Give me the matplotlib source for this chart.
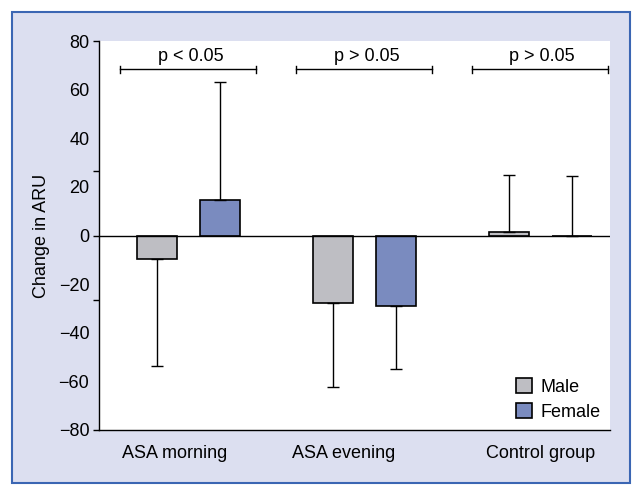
import numpy as np
import matplotlib
matplotlib.use("Agg")
import matplotlib.pyplot as plt
from matplotlib.patches import Rectangle

plt.rcParams['font.family'] = ['Liberation Sans', 'DejaVu Sans']

groups = ['ASA morning', 'ASA evening', 'Control group']
male = [-9.5, -27.6, 1.5]
female = [14.4, -29.2, 0.0]
male_sd = [44.0, 34.9, 23.2]
female_sd = [48.6, 25.8, 24.5]
p_texts = ['p < 0.05', 'p > 0.05', 'p > 0.05']
label_pos = [-0.08, 0.88, 2.0]

male_color = '#bebec3'
female_color = '#7a8bbf'
bg = '#dcdff0'
fs = 13

fig = plt.figure(figsize=(6.43, 4.96), dpi=100, facecolor='white')
frame = Rectangle((12 / 643, 13 / 496), 618 / 643, 471 / 496,
                  transform=fig.transFigure, facecolor=bg,
                  edgecolor='#3b66b3', linewidth=1.5, zorder=-10)
fig.add_artist(frame)

ax = fig.add_axes([99 / 643, 66 / 496, 511 / 643, 389 / 496])
ax.set_facecolor('white')

x = np.arange(len(groups))
off = 0.178
w = 0.227


def one_side(vals, sd):
    lo = [s if v < 0 else 0 for v, s in zip(vals, sd)]
    hi = [s if v >= 0 else 0 for v, s in zip(vals, sd)]
    return [lo, hi]


ax.bar(x - off, male, w, color=male_color, edgecolor='black', linewidth=1.2,
       label='Male', zorder=2)
ax.bar(x + off, female, w, color=female_color, edgecolor='black', linewidth=1.2,
       label='Female', zorder=2)
ax.errorbar(x - off, male, yerr=one_side(male, male_sd), fmt='none',
            ecolor='black', elinewidth=1, capsize=4, capthick=1, zorder=3)
ax.errorbar(x + off, female, yerr=one_side(female, female_sd), fmt='none',
            ecolor='black', elinewidth=1, capsize=4, capthick=1, zorder=3)

ax.axhline(0, color='black', linewidth=1, zorder=4)

# significance brackets
yb = 68.3
for i, t in enumerate(p_texts):
    x0, x1 = i - 0.39, i + 0.385
    ax.plot([x0, x1], [yb, yb], color='black', linewidth=1, clip_on=False)
    for xc in (x0, x1):
        ax.plot([xc, xc], [yb - 1.6, yb + 1.6], color='black', linewidth=1,
                clip_on=False)
    ax.text(i + 0.01, yb + 2.0, t, ha='center', va='bottom', fontsize=fs)

ax.set_xlim(-0.51, 2.395)
ax.set_ylim(-80, 80)

ax.spines['top'].set_visible(False)
ax.spines['right'].set_visible(False)
ax.spines['left'].set_linewidth(1)
ax.spines['bottom'].set_linewidth(1)

ax.set_xticks(label_pos)
ax.set_xticklabels(groups, fontsize=fs)
ax.tick_params(axis='x', length=0, pad=11)

ax.yaxis.remove_overlapping_locs = False
ax.set_yticks([-80, -80 / 3, 0, 80 / 3, 80])
ax.set_yticklabels([])
ax.set_yticks(np.arange(-80, 81, 20), minor=True)
ax.set_yticklabels([str(v).replace('-', '\u2212') for v in range(-80, 81, 20)],
                   minor=True, fontsize=fs)
ax.tick_params(axis='y', which='major', length=4, width=1)
ax.tick_params(axis='y', which='minor', length=0, pad=7)

ax.set_ylabel('Change in ARU', fontsize=fs)
ax.yaxis.set_label_coords(-0.095, 0.5)

ax.legend(loc='lower right', frameon=False, fontsize=fs, handlelength=0.9,
          handleheight=0.9, handletextpad=0.5, labelspacing=0.4,
          bbox_to_anchor=(1.0, 0.0), borderaxespad=0.1)

fig.savefig('out.png', dpi=100, facecolor='white')
